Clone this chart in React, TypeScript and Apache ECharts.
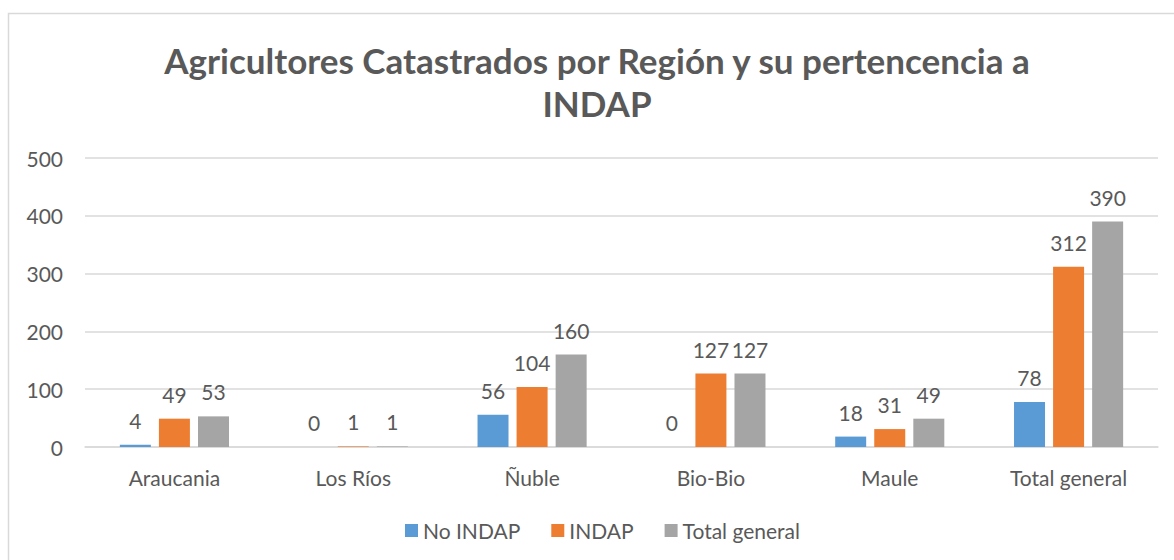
import React, { useEffect, useRef } from "react";
import * as echarts from "echarts";

const categories = ["Araucania", "Los Ríos", "Ñuble", "Bio-Bio", "Maule", "Total general"];
const noIndap = [4, 0, 56, 0, 18, 78];
const indap = [49, 1, 104, 127, 31, 312];
const totalGeneral = [53, 1, 160, 127, 49, 390];
const seriesNames = ["No INDAP", "INDAP", "Total general"];
const colors = ["#5B9BD5", "#ED7D31", "#A5A5A5"];
const titleText = "Agricultores Catastrados por Región y su pertencencia a\nINDAP";

const FONT = "Lato";
const TXT = "#595959";

export default function App() {
  const ref = useRef<HTMLDivElement>(null);
  useEffect(() => {
    if (!ref.current) return;
    const chart = echarts.init(ref.current, undefined, { renderer: "svg" });
    const mk = (name: string, data: number[], color: string) => ({
      name,
      type: "bar",
      data,
      barWidth: 31,
      barGap: "26%",
      itemStyle: { color },
      label: {
        show: true,
        position: "top",
        distance: 14,
        color: TXT,
        fontFamily: FONT,
        fontSize: 21,
      },
    });
    chart.setOption({
      animation: false,
      textStyle: { fontFamily: FONT },
      graphic: [
        {
          type: "rect",
          shape: { x: 8.5, y: 13.5, width: 1300, height: 700 },
          style: { fill: "none", stroke: "#d9d9d9", lineWidth: 1.5 },
          silent: true,
          z: -1,
        },
        {
          type: "text",
          x: 597,
          y: 38,
          silent: true,
          style: {
            text: titleText,
            fill: TXT,
            fontFamily: FONT,
            fontWeight: "bold",
            fontSize: 35,
            lineHeight: 43,
            align: "center",
            verticalAlign: "top",
          },
        },
      ],
      legend: {
        bottom: 14,
        left: 400,
        itemWidth: 13,
        itemHeight: 13,
        itemGap: 31,
        icon: "rect",
        textStyle: { color: TXT, fontFamily: FONT, fontSize: 21 },
        data: seriesNames,
      },
      grid: { left: 85, right: 16, top: 158, bottom: 113, containLabel: false },
      xAxis: {
        type: "category",
        data: categories,
        axisLine: { lineStyle: { color: "#d9d9d9", width: 1.5 } },
        axisTick: { show: false },
        axisLabel: { color: TXT, fontFamily: FONT, fontSize: 21, margin: 20 },
      },
      yAxis: {
        type: "value",
        min: 0,
        max: 500,
        interval: 100,
        axisLine: { show: false },
        axisTick: { show: false },
        splitLine: { lineStyle: { color: "#d9d9d9", width: 1.5 } },
        axisLabel: { color: TXT, fontFamily: FONT, fontSize: 21, margin: 22 },
      },
      series: [
        mk(seriesNames[0], noIndap, colors[0]),
        mk(seriesNames[1], indap, colors[1]),
        mk(seriesNames[2], totalGeneral, colors[2]),
      ],
    });
    return () => chart.dispose();
  }, []);
  return (
    <div
      ref={ref}
      style={{ position: "absolute", left: 0, top: 0, width: 1174, height: 560, background: "#fff" }}
    />
  );
}
